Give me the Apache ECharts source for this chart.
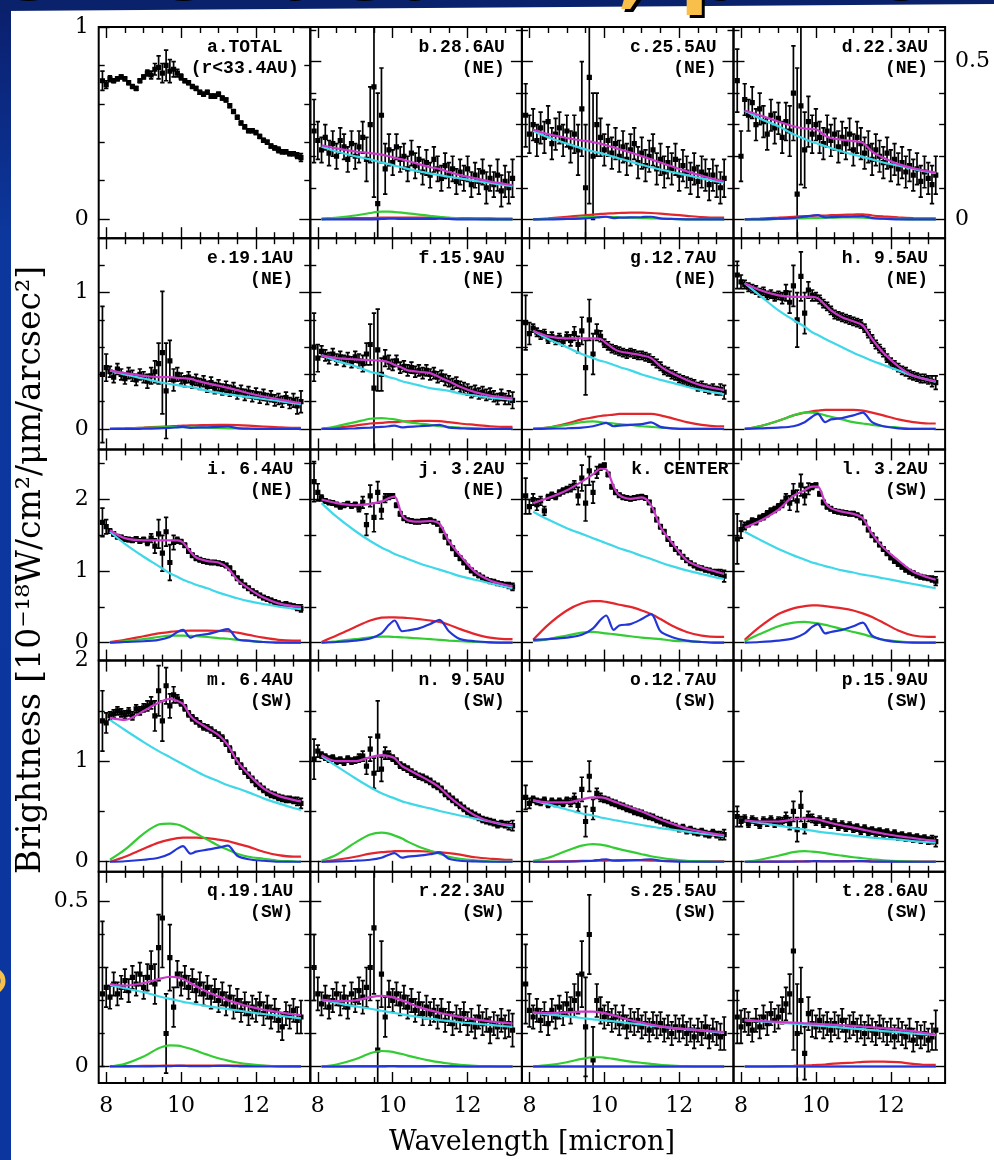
<!DOCTYPE html>
<html><head><meta charset="utf-8">
<script src="https://cdn.jsdelivr.net/npm/echarts@6/dist/echarts.min.js"></script>
<style>html,body{margin:0;padding:0;background:#fff}#c{width:994px;height:1160px}</style>
</head><body><div id="c"></div><script>
// ---------- shared grids ----------
const wavelength = [7.9,8.0,8.1,8.2,8.3,8.4,8.5,8.6,8.7,8.8,8.9,9.0,9.1,9.2,9.3,9.4,9.5,9.6,9.7,9.8,
 9.9,10.0,10.1,10.2,10.3,10.4,10.5,10.6,10.7,10.8,10.9,11.0,11.1,11.2,11.3,11.4,11.5,11.6,11.7,11.8,
 11.9,12.0,12.1,12.2,12.3,12.4,12.5,12.6,12.7,12.8,12.9,13.0,13.1,13.2];
const curveWavelength = [8.1,8.5,9.0,9.4,9.7,9.9,10.05,10.25,10.4,10.7,11.0,11.25,11.5,11.8,12.2,12.6,13.0,13.2];
const xMajorTicks = [8,10,12];
const xMinorTicks = [8.5,9,9.5,10.5,11,11.5,12.5,13];
const yRangeA = [-0.1,1.0], yMajorA = [0,1], yMinorA = [0.2,0.4,0.6,0.8];
const yRangeRow1 = [-0.06,0.61], yMajorRow1 = [0,0.5], yMinorRow1 = [0.1,0.2,0.3,0.4,0.6];
const yRangeRow2 = [-0.15,1.4], yMajorRow2 = [0,1], yMinorRow2 = [0.2,0.4,0.6,0.8,1.2];
const yRangeRow3 = [-0.25,2.7], yMajorRow3 = [0,1,2], yMinorRow3 = [0.5,1.5,2.5];
const yRangeRow4 = [-0.1,2.0], yMajorRow4 = [0,1,2], yMinorRow4 = [0.5,1.5];
const yRangeRow5 = [-0.05,0.59], yMajorRow5 = [0,0.5], yMinorRow5 = [0.1,0.2,0.3,0.4];
const panelTitles = [['a.TOTAL','(r<33.4AU)'],['b.28.6AU','(NE)'],['c.25.5AU','(NE)'],['d.22.3AU','(NE)'],
 ['e.19.1AU','(NE)'],['f.15.9AU','(NE)'],['g.12.7AU','(NE)'],['h. 9.5AU','(NE)'],
 ['i. 6.4AU','(NE)'],['j. 3.2AU','(NE)'],['k. CENTER'],['l. 3.2AU','(SW)'],
 ['m. 6.4AU','(SW)'],['n. 9.5AU','(SW)'],['o.12.7AU','(SW)'],['p.15.9AU','(SW)'],
 ['q.19.1AU','(SW)'],['r.22.3AU','(SW)'],['s.25.5AU','(SW)'],['t.28.6AU','(SW)']];

// ---------- a ----------
const a_val = [0.72,0.70,0.73,0.72,0.73,0.74,0.73,0.71,0.69,0.68,
 0.72,0.74,0.76,0.75,0.78,0.79,0.76,0.80,0.77,0.78,
 0.76,0.74,0.72,0.71,0.69,0.68,0.66,0.65,0.66,0.64,
 0.64,0.65,0.63,0.62,0.59,0.56,0.53,0.50,0.48,0.46,
 0.46,0.45,0.43,0.41,0.40,0.38,0.37,0.36,0.35,0.35,
 0.34,0.34,0.33,0.32];
const a_err = [0.05,0.02,0.015,0.01,0.01,0.01,0.01,0.01,0.01,0.01,
 0.01,0.01,0.015,0.02,0.03,0.06,0.05,0.08,0.06,0.04,
 0.02,0.015,0.01,0.01,0.01,0.01,0.01,0.01,0.01,0.01,
 0.01,0.01,0.01,0.01,0.01,0.01,0.01,0.01,0.01,0.01,
 0.01,0.01,0.01,0.01,0.01,0.01,0.01,0.015,0.01,0.01,
 0.01,0.01,0.015,0.02];
// ---------- b ----------
const b_val = [0.28,0.25,0.22,0.26,0.21,0.24,0.20,0.25,0.23,0.19,
 0.24,0.20,0.23,0.26,0.19,0.30,0.42,0.05,0.33,0.16,
 0.22,0.18,0.23,0.19,0.20,0.16,0.21,0.17,0.19,0.15,
 0.18,0.14,0.19,0.16,0.13,0.17,0.14,0.16,0.12,0.15,
 0.13,0.16,0.11,0.14,0.12,0.15,0.10,0.13,0.11,0.14,
 0.09,0.12,0.10,0.13];
const b_err = [0.10,0.06,0.04,0.04,0.04,0.04,0.04,0.04,0.04,0.04,
 0.04,0.04,0.05,0.05,0.07,0.12,0.35,0.35,0.15,0.08,
 0.05,0.04,0.04,0.04,0.04,0.04,0.04,0.04,0.04,0.04,
 0.04,0.04,0.04,0.04,0.04,0.04,0.04,0.04,0.04,0.04,
 0.04,0.04,0.04,0.04,0.04,0.04,0.05,0.04,0.04,0.05,
 0.05,0.05,0.05,0.06];
const b_total = [0.235,0.225,0.215,0.21,0.205,0.20,0.195,0.19,0.185,0.175,0.165,0.16,0.15,0.14,0.13,0.12,0.112,0.108];
const b_cont = [0.23,0.215,0.20,0.19,0.18,0.175,0.17,0.165,0.16,0.152,0.145,0.14,0.135,0.13,0.122,0.115,0.108,0.105];
const b_red = [0.002,0.003,0.004,0.004,0.005,0.005,0.005,0.005,0.005,0.005,0.005,0.005,0.004,0.004,0.003,0.003,0.002,0.002];
const b_green = [0,0.005,0.012,0.02,0.024,0.024,0.023,0.021,0.019,0.015,0.011,0.008,0.005,0.003,0.001,0,0,0];
const b_blue = [0,0,0,0,0.001,0.002,0.002,0.001,0.001,0.001,0.001,0.002,0.001,0,0,0,0,0];
// ---------- c ----------
const c_val = [0.33,0.27,0.30,0.25,0.29,0.26,0.31,0.24,0.27,0.29,
 0.25,0.28,0.23,0.27,0.22,0.35,0.10,0.45,0.20,0.30,
 0.26,0.22,0.25,0.21,0.24,0.20,0.23,0.19,0.22,0.24,
 0.18,0.21,0.17,0.20,0.22,0.16,0.19,0.15,0.18,0.16,
 0.19,0.14,0.17,0.15,0.13,0.16,0.12,0.15,0.14,0.11,
 0.14,0.12,0.10,0.13];
const c_err = [0.10,0.06,0.05,0.05,0.05,0.05,0.05,0.05,0.05,0.05,
 0.05,0.05,0.05,0.06,0.08,0.15,0.20,0.40,0.20,0.10,
 0.06,0.05,0.05,0.05,0.05,0.05,0.05,0.05,0.05,0.05,
 0.05,0.05,0.05,0.05,0.05,0.05,0.05,0.05,0.05,0.05,
 0.05,0.05,0.05,0.05,0.05,0.05,0.05,0.05,0.05,0.05,
 0.05,0.05,0.05,0.06];
const c_total = [0.285,0.27,0.258,0.25,0.245,0.24,0.235,0.228,0.222,0.212,0.20,0.19,0.18,0.168,0.152,0.138,0.125,0.12];
const c_cont = [0.28,0.26,0.24,0.225,0.215,0.21,0.205,0.198,0.193,0.183,0.173,0.165,0.158,0.15,0.14,0.13,0.12,0.116];
const c_red = [0,0.003,0.008,0.012,0.015,0.017,0.018,0.019,0.02,0.021,0.021,0.02,0.018,0.015,0.011,0.007,0.005,0.005];
const c_green = [0,0.001,0.003,0.006,0.008,0.008,0.008,0.007,0.006,0.005,0.004,0.003,0.002,0.001,0,0,0,0];
const c_blue = [0,0,0.001,0.002,0.004,0.007,0.008,0.004,0.005,0.006,0.007,0.008,0.003,0.001,0,0,0,0];
// ---------- d ----------
const d_val = [0.44,0.20,0.38,0.33,0.37,0.30,0.35,0.31,0.27,0.33,
 0.29,0.32,0.26,0.31,0.28,0.40,0.08,0.36,0.22,0.31,
 0.27,0.30,0.26,0.24,0.28,0.25,0.27,0.23,0.26,0.24,
 0.27,0.22,0.26,0.24,0.21,0.23,0.19,0.22,0.20,0.18,
 0.21,0.17,0.19,0.16,0.18,0.15,0.17,0.14,0.16,0.12,
 0.15,0.13,0.11,0.14];
const d_err = [0.10,0.08,0.05,0.05,0.05,0.05,0.05,0.05,0.05,0.05,
 0.05,0.05,0.05,0.06,0.08,0.15,0.40,0.25,0.12,0.08,
 0.06,0.05,0.05,0.05,0.05,0.05,0.05,0.05,0.05,0.05,
 0.05,0.05,0.05,0.05,0.05,0.05,0.05,0.05,0.05,0.05,
 0.05,0.05,0.05,0.05,0.05,0.05,0.05,0.05,0.05,0.05,
 0.05,0.05,0.06,0.06];
const d_total = [0.345,0.33,0.31,0.295,0.288,0.286,0.283,0.265,0.258,0.252,0.248,0.243,0.215,0.195,0.175,0.162,0.152,0.148];
const d_cont = [0.345,0.32,0.295,0.27,0.255,0.245,0.24,0.232,0.226,0.215,0.205,0.198,0.19,0.18,0.17,0.16,0.15,0.146];
const d_red = [0,0.002,0.005,0.008,0.01,0.011,0.012,0.012,0.013,0.014,0.015,0.016,0.012,0.009,0.006,0.004,0.003,0.003];
const d_green = [0,0,0.001,0.002,0.003,0.004,0.004,0.005,0.005,0.006,0.006,0.005,0.003,0.002,0.001,0,0,0];
const d_blue = [0,0,0.002,0.004,0.008,0.012,0.013,0.006,0.007,0.008,0.009,0.01,0.004,0.002,0,0,0,0];
// ---------- e ----------
const e_val = [0.40,0.45,0.42,0.38,0.44,0.40,0.37,0.41,0.39,0.36,
 0.40,0.38,0.35,0.39,0.42,0.48,0.56,0.28,0.50,0.36,
 0.40,0.37,0.35,0.38,0.34,0.36,0.33,0.35,0.31,0.34,
 0.30,0.32,0.29,0.31,0.28,0.30,0.26,0.28,0.25,0.27,
 0.24,0.26,0.23,0.25,0.22,0.24,0.21,0.22,0.20,0.23,
 0.19,0.21,0.17,0.20];
const e_err = [0.50,0.10,0.04,0.04,0.04,0.04,0.04,0.04,0.04,0.04,
 0.04,0.04,0.05,0.06,0.08,0.15,0.45,0.35,0.15,0.08,
 0.05,0.04,0.04,0.04,0.04,0.04,0.04,0.04,0.04,0.04,
 0.04,0.04,0.04,0.04,0.04,0.04,0.04,0.04,0.04,0.04,
 0.04,0.04,0.04,0.04,0.04,0.04,0.04,0.04,0.04,0.04,
 0.04,0.05,0.06,0.08];
const e_total = [0.43,0.41,0.39,0.38,0.38,0.375,0.372,0.368,0.355,0.335,0.318,0.302,0.285,0.262,0.238,0.218,0.198,0.19];
const e_cont = [0.43,0.40,0.37,0.345,0.33,0.322,0.315,0.307,0.30,0.28,0.265,0.255,0.245,0.235,0.22,0.205,0.19,0.182];
const e_red = [0,0.004,0.01,0.016,0.02,0.022,0.024,0.026,0.027,0.029,0.03,0.03,0.028,0.024,0.018,0.012,0.008,0.008];
const e_green = [0,0.003,0.008,0.012,0.014,0.014,0.013,0.012,0.011,0.009,0.007,0.005,0.004,0.002,0.001,0,0,0];
const e_blue = [0,0,0.002,0.004,0.008,0.012,0.015,0.008,0.01,0.012,0.015,0.018,0.006,0.002,0,0,0,0];
// ---------- f ----------
const f_val = [0.60,0.52,0.57,0.54,0.52,0.55,0.51,0.53,0.50,0.52,
 0.49,0.53,0.50,0.48,0.55,0.62,0.30,0.58,0.40,0.52,
 0.49,0.47,0.50,0.45,0.46,0.43,0.45,0.42,0.43,0.41,
 0.43,0.40,0.41,0.38,0.39,0.36,0.35,0.33,0.34,0.31,
 0.30,0.29,0.27,0.28,0.26,0.27,0.25,0.26,0.24,0.22,
 0.25,0.22,0.23,0.21];
const f_err = [0.25,0.10,0.04,0.04,0.04,0.04,0.04,0.04,0.04,0.04,
 0.04,0.04,0.05,0.06,0.08,0.15,0.55,0.30,0.12,0.06,
 0.05,0.04,0.04,0.04,0.04,0.04,0.04,0.04,0.04,0.04,
 0.04,0.04,0.04,0.04,0.04,0.04,0.04,0.04,0.04,0.04,
 0.04,0.04,0.04,0.04,0.04,0.04,0.04,0.04,0.04,0.04,
 0.04,0.04,0.05,0.06];
const f_total = [0.54,0.52,0.51,0.505,0.50,0.49,0.47,0.45,0.43,0.42,0.41,0.38,0.35,0.31,0.27,0.245,0.23,0.225];
const f_cont = [0.54,0.50,0.46,0.42,0.40,0.38,0.37,0.35,0.34,0.32,0.30,0.29,0.28,0.26,0.245,0.23,0.22,0.215];
const f_red = [0,0.01,0.025,0.04,0.045,0.05,0.05,0.055,0.055,0.06,0.06,0.058,0.05,0.04,0.03,0.02,0.015,0.015];
const f_green = [0,0.02,0.05,0.075,0.08,0.075,0.07,0.06,0.05,0.04,0.03,0.02,0.015,0.01,0.005,0,0,0];
const f_blue = [0,0,0.005,0.01,0.015,0.02,0.025,0.012,0.015,0.02,0.025,0.03,0.01,0.005,0,0,0,0];
// ---------- g ----------
const g_val = [0.78,0.70,0.74,0.71,0.69,0.70,0.66,0.68,0.65,0.67,
 0.64,0.68,0.65,0.70,0.62,0.72,0.45,0.80,0.55,0.71,
 0.68,0.63,0.61,0.59,0.58,0.57,0.56,0.55,0.56,0.55,
 0.54,0.54,0.53,0.52,0.50,0.48,0.46,0.43,0.42,0.40,
 0.39,0.37,0.36,0.35,0.34,0.33,0.31,0.32,0.30,0.29,
 0.30,0.28,0.29,0.27];
const g_err = [0.20,0.08,0.03,0.03,0.03,0.03,0.03,0.03,0.03,0.03,
 0.03,0.03,0.04,0.05,0.06,0.10,0.20,0.15,0.15,0.06,
 0.04,0.03,0.03,0.03,0.03,0.03,0.03,0.03,0.03,0.03,
 0.03,0.03,0.03,0.03,0.03,0.03,0.03,0.03,0.03,0.03,
 0.03,0.03,0.03,0.03,0.03,0.03,0.03,0.03,0.03,0.03,
 0.03,0.03,0.04,0.05];
const g_total = [0.72,0.68,0.665,0.665,0.665,0.66,0.63,0.59,0.57,0.555,0.54,0.52,0.46,0.41,0.36,0.32,0.295,0.285];
const g_cont = [0.72,0.66,0.60,0.55,0.52,0.50,0.49,0.47,0.455,0.43,0.40,0.38,0.36,0.34,0.31,0.285,0.265,0.255];
const g_red = [0,0.01,0.04,0.07,0.085,0.095,0.10,0.105,0.11,0.11,0.11,0.11,0.10,0.08,0.05,0.03,0.02,0.02];
const g_green = [0,0.01,0.03,0.05,0.055,0.05,0.045,0.04,0.035,0.03,0.02,0.015,0.01,0.005,0,0,0,0];
const g_blue = [0,0.002,0.005,0.01,0.02,0.035,0.045,0.02,0.025,0.03,0.035,0.048,0.015,0.005,0,0,0,0];
// ---------- h ----------
const h_val = [1.13,1.08,1.06,1.04,1.03,1.02,1.00,1.01,0.98,0.99,
 0.97,0.98,0.96,1.00,0.93,1.05,0.80,1.12,0.85,1.02,
 0.98,0.97,0.95,0.92,0.90,0.87,0.84,0.83,0.82,0.81,
 0.80,0.79,0.78,0.77,0.74,0.70,0.66,0.62,0.59,0.56,
 0.52,0.49,0.47,0.45,0.43,0.42,0.40,0.39,0.38,0.37,
 0.37,0.36,0.35,0.34];
const h_err = [0.10,0.05,0.03,0.03,0.03,0.03,0.03,0.03,0.03,0.03,
 0.03,0.03,0.04,0.06,0.08,0.15,0.20,0.18,0.15,0.06,
 0.04,0.03,0.03,0.03,0.03,0.03,0.03,0.03,0.03,0.03,
 0.03,0.03,0.03,0.03,0.03,0.03,0.03,0.03,0.03,0.03,
 0.03,0.03,0.03,0.03,0.03,0.03,0.03,0.03,0.03,0.03,
 0.03,0.03,0.04,0.05];
const h_total = [1.07,1.02,0.98,0.97,0.97,0.97,0.96,0.91,0.87,0.82,0.79,0.76,0.66,0.56,0.46,0.39,0.36,0.35];
const h_cont = [1.07,0.98,0.87,0.80,0.75,0.71,0.69,0.66,0.64,0.60,0.56,0.53,0.50,0.47,0.43,0.39,0.36,0.345];
const h_red = [0,0.02,0.06,0.10,0.12,0.13,0.135,0.14,0.14,0.14,0.14,0.135,0.12,0.10,0.07,0.05,0.04,0.04];
const h_green = [0,0.02,0.06,0.10,0.12,0.12,0.115,0.10,0.09,0.07,0.05,0.04,0.03,0.02,0.01,0,0,0];
const h_blue = [0,0.005,0.01,0.02,0.05,0.09,0.11,0.05,0.07,0.08,0.10,0.12,0.05,0.02,0.005,0,0,0];
// ---------- i ----------
const i_val = [1.68,1.62,1.56,1.52,1.48,1.47,1.45,1.44,1.43,1.45,
 1.42,1.44,1.40,1.46,1.35,1.52,1.25,1.55,1.12,1.40,
 1.43,1.41,1.36,1.28,1.22,1.18,1.16,1.14,1.13,1.12,
 1.12,1.11,1.10,1.08,1.04,0.97,0.90,0.85,0.80,0.76,
 0.72,0.69,0.66,0.63,0.61,0.59,0.57,0.55,0.53,0.54,
 0.52,0.51,0.49,0.48];
const i_err = [0.20,0.10,0.03,0.03,0.03,0.03,0.03,0.03,0.03,0.03,
 0.03,0.03,0.04,0.06,0.10,0.20,0.25,0.20,0.25,0.10,
 0.04,0.03,0.03,0.03,0.03,0.03,0.03,0.03,0.03,0.03,
 0.03,0.03,0.03,0.03,0.03,0.03,0.03,0.03,0.03,0.03,
 0.03,0.03,0.03,0.03,0.03,0.03,0.03,0.03,0.03,0.03,
 0.03,0.03,0.04,0.05];
const i_total = [1.57,1.46,1.43,1.43,1.43,1.43,1.40,1.27,1.19,1.14,1.12,1.04,0.88,0.76,0.63,0.55,0.51,0.50];
const i_cont = [1.55,1.38,1.20,1.07,0.97,0.92,0.88,0.84,0.81,0.76,0.70,0.66,0.62,0.58,0.54,0.505,0.48,0.47];
const i_red = [0.01,0.04,0.09,0.13,0.15,0.16,0.165,0.17,0.17,0.17,0.165,0.16,0.14,0.11,0.07,0.04,0.03,0.03];
const i_green = [0,0.02,0.05,0.08,0.10,0.10,0.10,0.095,0.09,0.08,0.065,0.055,0.04,0.025,0.01,0.005,0,0];
const i_blue = [0,0.01,0.02,0.04,0.08,0.15,0.18,0.07,0.10,0.12,0.16,0.19,0.05,0.03,0.01,0,0,0];
// ---------- j ----------
const j_val = [2.25,2.10,2.02,1.98,1.96,1.95,1.93,1.90,1.92,1.94,
 1.91,1.93,1.88,1.96,1.65,2.05,1.75,2.10,1.85,2.02,
 2.04,2.05,1.92,1.80,1.74,1.71,1.70,1.69,1.69,1.70,
 1.70,1.71,1.69,1.66,1.57,1.48,1.40,1.32,1.24,1.18,
 1.12,1.06,1.01,0.97,0.94,0.91,0.88,0.86,0.85,0.83,
 0.82,0.81,0.80,0.78];
const j_err = [0.28,0.12,0.04,0.03,0.03,0.03,0.03,0.03,0.03,0.03,
 0.03,0.03,0.05,0.08,0.15,0.15,0.20,0.15,0.12,0.06,
 0.04,0.03,0.03,0.03,0.03,0.03,0.03,0.03,0.03,0.03,
 0.03,0.03,0.03,0.03,0.03,0.03,0.03,0.03,0.03,0.03,
 0.03,0.03,0.03,0.03,0.03,0.03,0.03,0.03,0.03,0.03,
 0.03,0.03,0.04,0.05];
const j_total = [2.00,1.95,1.92,1.94,1.97,2.02,2.04,1.78,1.71,1.69,1.70,1.66,1.42,1.22,0.99,0.87,0.81,0.79];
const j_cont = [1.95,1.76,1.56,1.42,1.33,1.28,1.24,1.20,1.17,1.11,1.06,1.02,0.98,0.93,0.88,0.83,0.78,0.76];
const j_red = [0.01,0.10,0.22,0.31,0.35,0.355,0.355,0.35,0.345,0.33,0.31,0.29,0.25,0.19,0.12,0.07,0.05,0.05];
const j_green = [0,0.02,0.05,0.075,0.085,0.085,0.08,0.075,0.07,0.06,0.05,0.04,0.03,0.02,0.01,0.005,0,0];
const j_blue = [0,0.01,0.03,0.06,0.13,0.25,0.31,0.16,0.17,0.20,0.26,0.32,0.16,0.05,0.02,0.005,0,0];
// ---------- k ----------
const k_val = [2.05,1.90,2.00,1.93,1.98,1.84,2.03,2.06,2.04,2.09,
 2.12,2.14,2.16,2.20,2.05,2.30,1.95,2.40,2.10,2.38,
 2.45,2.48,2.35,2.18,2.10,2.06,2.03,2.02,2.01,2.02,
 2.03,2.04,2.02,1.96,1.85,1.72,1.62,1.55,1.45,1.38,
 1.31,1.26,1.20,1.15,1.11,1.08,1.05,1.04,1.02,1.01,
 0.99,0.98,0.97,0.93];
const k_err = [0.25,0.10,0.08,0.08,0.06,0.06,0.04,0.04,0.04,0.04,
 0.04,0.04,0.05,0.06,0.12,0.18,0.25,0.20,0.15,0.08,
 0.04,0.03,0.03,0.03,0.03,0.03,0.03,0.03,0.03,0.03,
 0.03,0.03,0.03,0.03,0.03,0.03,0.03,0.03,0.03,0.03,
 0.03,0.03,0.03,0.03,0.03,0.03,0.03,0.03,0.03,0.03,
 0.03,0.04,0.05,0.08];
const k_total = [1.95,2.02,2.13,2.25,2.35,2.43,2.42,2.18,2.06,2.01,2.03,1.92,1.62,1.40,1.15,1.05,0.99,0.96];
const k_cont = [1.83,1.72,1.60,1.52,1.46,1.42,1.39,1.35,1.32,1.27,1.21,1.17,1.12,1.07,1.01,0.96,0.91,0.89];
const k_red = [0.04,0.25,0.45,0.55,0.58,0.58,0.57,0.55,0.53,0.50,0.45,0.40,0.33,0.24,0.15,0.10,0.08,0.08];
const k_green = [0.02,0.05,0.10,0.14,0.15,0.14,0.13,0.12,0.11,0.09,0.07,0.06,0.05,0.03,0.02,0.01,0,0];
const k_blue = [0.04,0.05,0.07,0.11,0.20,0.32,0.38,0.18,0.24,0.26,0.33,0.40,0.16,0.08,0.03,0.01,0,0];
// ---------- l ----------
const l_val = [1.45,1.58,1.63,1.66,1.70,1.69,1.74,1.76,1.80,1.84,
 1.86,1.90,1.94,2.02,1.95,2.10,1.98,2.20,2.05,2.15,
 2.18,2.20,2.08,1.96,1.90,1.87,1.84,1.83,1.82,1.81,
 1.80,1.80,1.78,1.75,1.68,1.58,1.50,1.44,1.37,1.31,
 1.25,1.19,1.14,1.10,1.06,1.02,0.99,0.97,0.94,0.92,
 0.91,0.90,0.89,0.86];
const l_err = [0.35,0.12,0.05,0.04,0.04,0.04,0.04,0.04,0.04,0.04,
 0.04,0.04,0.05,0.06,0.10,0.12,0.15,0.15,0.12,0.08,
 0.04,0.03,0.03,0.03,0.03,0.03,0.03,0.03,0.03,0.03,
 0.03,0.03,0.03,0.03,0.03,0.03,0.03,0.03,0.03,0.03,
 0.03,0.03,0.03,0.03,0.03,0.03,0.03,0.03,0.03,0.03,
 0.03,0.03,0.04,0.06];
const l_total = [1.61,1.70,1.86,2.05,2.13,2.18,2.18,1.96,1.88,1.83,1.80,1.74,1.52,1.33,1.15,0.99,0.91,0.88];
const l_cont = [1.55,1.44,1.31,1.22,1.16,1.12,1.10,1.07,1.05,1.01,0.98,0.95,0.93,0.90,0.86,0.82,0.78,0.76];
const l_red = [0.04,0.22,0.40,0.48,0.51,0.52,0.52,0.51,0.50,0.48,0.45,0.41,0.36,0.28,0.17,0.10,0.08,0.08];
const l_green = [0.02,0.12,0.23,0.28,0.29,0.28,0.27,0.25,0.23,0.19,0.15,0.12,0.08,0.04,0.02,0.005,0,0];
const l_blue = [0,0.01,0.03,0.06,0.13,0.22,0.26,0.13,0.15,0.18,0.23,0.28,0.10,0.04,0.01,0,0,0];
// ---------- m ----------
const m_val = [1.40,1.38,1.45,1.47,1.50,1.48,1.46,1.49,1.45,1.52,
 1.50,1.53,1.55,1.58,1.45,1.70,1.40,1.75,1.55,1.66,
 1.62,1.58,1.53,1.47,1.43,1.40,1.37,1.34,1.33,1.31,
 1.28,1.26,1.23,1.18,1.12,1.06,1.00,0.95,0.90,0.86,
 0.82,0.78,0.75,0.72,0.69,0.67,0.66,0.64,0.63,0.62,
 0.62,0.61,0.60,0.58];
const m_err = [0.30,0.10,0.04,0.04,0.04,0.04,0.04,0.04,0.04,0.04,
 0.04,0.04,0.05,0.06,0.15,0.25,0.20,0.18,0.12,0.08,
 0.04,0.03,0.03,0.03,0.03,0.03,0.03,0.03,0.03,0.03,
 0.03,0.03,0.03,0.03,0.03,0.03,0.03,0.03,0.03,0.03,
 0.03,0.03,0.03,0.03,0.03,0.03,0.03,0.03,0.03,0.03,
 0.03,0.03,0.04,0.05];
const m_total = [1.43,1.41,1.50,1.58,1.62,1.60,1.57,1.45,1.40,1.33,1.26,1.16,1.00,0.87,0.73,0.655,0.615,0.60];
const m_cont = [1.41,1.31,1.19,1.10,1.04,1.00,0.97,0.93,0.90,0.845,0.80,0.76,0.73,0.69,0.63,0.58,0.535,0.515];
const m_red = [0,0.05,0.13,0.19,0.22,0.235,0.24,0.24,0.24,0.235,0.22,0.205,0.18,0.15,0.10,0.065,0.05,0.05];
const m_green = [0.02,0.12,0.28,0.37,0.38,0.37,0.35,0.31,0.28,0.22,0.16,0.12,0.08,0.05,0.03,0.01,0.005,0];
const m_blue = [0,0.005,0.02,0.04,0.08,0.13,0.155,0.08,0.10,0.12,0.14,0.16,0.06,0.025,0.01,0,0,0];
// ---------- n ----------
const n_val = [1.02,1.10,1.06,1.04,1.02,1.03,1.00,1.01,0.99,1.02,
 1.00,1.01,1.03,1.05,0.95,1.12,0.88,1.25,0.92,1.08,
 1.06,1.03,1.00,0.96,0.94,0.92,0.89,0.87,0.85,0.84,
 0.82,0.80,0.77,0.75,0.72,0.68,0.65,0.62,0.59,0.56,
 0.53,0.50,0.48,0.46,0.44,0.42,0.41,0.40,0.39,0.37,
 0.38,0.37,0.36,0.36];
const n_err = [0.20,0.06,0.03,0.03,0.03,0.03,0.03,0.03,0.03,0.03,
 0.03,0.03,0.04,0.05,0.08,0.12,0.15,0.35,0.12,0.06,
 0.04,0.03,0.03,0.03,0.03,0.03,0.03,0.03,0.03,0.03,
 0.03,0.03,0.03,0.03,0.03,0.03,0.03,0.03,0.03,0.03,
 0.03,0.03,0.03,0.03,0.03,0.03,0.03,0.03,0.03,0.03,
 0.03,0.03,0.04,0.05];
const n_total = [1.06,1.00,1.00,1.04,1.06,1.05,1.03,0.95,0.92,0.86,0.80,0.74,0.65,0.56,0.46,0.40,0.37,0.365];
const n_cont = [1.05,0.95,0.83,0.74,0.68,0.65,0.63,0.60,0.585,0.555,0.53,0.505,0.485,0.46,0.43,0.40,0.365,0.35];
const n_red = [0,0.02,0.05,0.08,0.095,0.10,0.105,0.105,0.105,0.105,0.10,0.095,0.085,0.07,0.045,0.03,0.02,0.02];
const n_green = [0.01,0.07,0.19,0.27,0.29,0.28,0.26,0.23,0.20,0.15,0.11,0.08,0.05,0.03,0.015,0.005,0,0];
const n_blue = [0,0.003,0.01,0.02,0.04,0.07,0.085,0.04,0.05,0.06,0.075,0.09,0.03,0.01,0.003,0,0,0];
// ---------- o ----------
const o_val = [0.64,0.58,0.62,0.60,0.59,0.61,0.57,0.60,0.58,0.60,
 0.58,0.61,0.59,0.63,0.56,0.72,0.40,0.85,0.52,0.68,
 0.64,0.62,0.61,0.59,0.58,0.56,0.55,0.53,0.52,0.50,
 0.49,0.48,0.46,0.45,0.44,0.42,0.41,0.39,0.38,0.36,
 0.35,0.33,0.34,0.31,0.32,0.30,0.29,0.30,0.28,0.27,
 0.29,0.27,0.26,0.27];
const o_err = [0.12,0.05,0.03,0.03,0.03,0.03,0.03,0.03,0.03,0.03,
 0.03,0.03,0.04,0.05,0.06,0.12,0.15,0.15,0.10,0.05,
 0.04,0.03,0.03,0.03,0.03,0.03,0.03,0.03,0.03,0.03,
 0.03,0.03,0.03,0.03,0.03,0.03,0.03,0.03,0.03,0.03,
 0.03,0.03,0.03,0.03,0.03,0.03,0.03,0.03,0.03,0.03,
 0.03,0.03,0.04,0.05];
const o_total = [0.61,0.59,0.59,0.62,0.64,0.64,0.63,0.60,0.58,0.54,0.50,0.46,0.42,0.38,0.33,0.30,0.275,0.265];
const o_cont = [0.61,0.57,0.52,0.48,0.46,0.44,0.43,0.415,0.405,0.385,0.365,0.35,0.335,0.32,0.30,0.28,0.265,0.255];
const o_red = [0,0.002,0.005,0.008,0.01,0.012,0.012,0.013,0.013,0.013,0.013,0.012,0.01,0.008,0.006,0.004,0.003,0.003];
const o_green = [0.01,0.04,0.11,0.16,0.175,0.17,0.16,0.14,0.125,0.10,0.075,0.055,0.04,0.025,0.01,0.005,0,0];
const o_blue = [0,0,0.002,0.005,0.01,0.02,0.025,0.01,0.012,0.015,0.02,0.025,0.01,0.003,0,0,0,0];
// ---------- p ----------
const p_val = [0.45,0.40,0.43,0.38,0.42,0.40,0.37,0.41,0.39,0.42,
 0.38,0.41,0.40,0.44,0.38,0.50,0.32,0.55,0.36,0.45,
 0.43,0.40,0.42,0.38,0.40,0.37,0.39,0.35,0.37,0.34,
 0.36,0.33,0.34,0.31,0.33,0.30,0.31,0.29,0.30,0.28,
 0.29,0.26,0.28,0.25,0.26,0.24,0.25,0.23,0.24,0.22,
 0.23,0.21,0.22,0.20];
const p_err = [0.10,0.05,0.035,0.035,0.035,0.035,0.035,0.035,0.035,0.035,
 0.035,0.035,0.04,0.05,0.06,0.10,0.12,0.15,0.08,0.05,
 0.04,0.035,0.035,0.035,0.035,0.035,0.035,0.035,0.035,0.035,
 0.035,0.035,0.035,0.035,0.035,0.035,0.035,0.035,0.035,0.035,
 0.035,0.035,0.035,0.035,0.035,0.035,0.035,0.035,0.035,0.035,
 0.035,0.035,0.04,0.05];
const p_total = [0.41,0.40,0.40,0.42,0.43,0.425,0.42,0.40,0.385,0.36,0.34,0.32,0.30,0.28,0.255,0.235,0.215,0.21];
const p_cont = [0.41,0.385,0.36,0.335,0.32,0.31,0.30,0.29,0.285,0.27,0.26,0.25,0.24,0.23,0.22,0.205,0.195,0.19];
const p_red = [0,0.001,0.002,0.003,0.004,0.005,0.005,0.005,0.005,0.006,0.006,0.006,0.005,0.004,0.003,0.002,0.001,0.001];
const p_green = [0,0.02,0.06,0.095,0.105,0.10,0.095,0.085,0.075,0.06,0.045,0.035,0.025,0.015,0.006,0.002,0,0];
const p_blue = [0,0,0.001,0.002,0.003,0.005,0.006,0.003,0.004,0.004,0.005,0.006,0.002,0.001,0,0,0,0];
// ---------- q ----------
const q_val = [0.22,0.24,0.21,0.25,0.22,0.24,0.26,0.23,0.27,0.25,
 0.28,0.24,0.27,0.30,0.25,0.36,0.45,0.10,0.33,0.18,
 0.28,0.25,0.27,0.24,0.26,0.23,0.25,0.22,0.24,0.21,
 0.23,0.20,0.22,0.19,0.21,0.18,0.20,0.17,0.19,0.16,
 0.18,0.17,0.19,0.16,0.18,0.15,0.17,0.14,0.12,0.16,
 0.15,0.17,0.14,0.15];
const q_err = [0.22,0.06,0.035,0.035,0.035,0.035,0.035,0.035,0.035,0.035,
 0.035,0.035,0.04,0.05,0.06,0.10,0.15,0.12,0.10,0.06,
 0.04,0.035,0.035,0.035,0.035,0.035,0.035,0.035,0.035,0.035,
 0.035,0.035,0.035,0.035,0.035,0.035,0.035,0.035,0.035,0.035,
 0.035,0.035,0.035,0.035,0.035,0.035,0.035,0.035,0.04,0.035,
 0.035,0.035,0.04,0.05];
const q_total = [0.25,0.245,0.253,0.265,0.272,0.27,0.265,0.253,0.243,0.226,0.212,0.201,0.192,0.182,0.172,0.165,0.158,0.156];
const q_cont = [0.247,0.237,0.225,0.213,0.205,0.20,0.196,0.192,0.189,0.183,0.178,0.174,0.17,0.165,0.159,0.154,0.149,0.146];
const q_red = [0.001,0.001,0.002,0.002,0.003,0.003,0.003,0.003,0.003,0.003,0.003,0.003,0.003,0.002,0.002,0.001,0.001,0.001];
const q_green = [0,0.008,0.03,0.055,0.064,0.063,0.06,0.054,0.048,0.036,0.025,0.018,0.012,0.007,0.003,0.001,0,0];
const q_blue = [0,0,0,0.001,0.001,0.002,0.002,0.001,0.001,0.001,0.002,0.002,0.001,0,0,0,0,0];
// ---------- r ----------
const r_val = [0.30,0.22,0.19,0.21,0.18,0.20,0.22,0.19,0.21,0.18,
 0.22,0.20,0.23,0.21,0.24,0.30,0.42,0.05,0.28,0.15,
 0.22,0.20,0.22,0.19,0.21,0.18,0.20,0.17,0.19,0.16,
 0.18,0.16,0.17,0.15,0.17,0.14,0.16,0.13,0.15,0.14,
 0.16,0.13,0.14,0.12,0.15,0.13,0.14,0.11,0.13,0.12,
 0.14,0.12,0.13,0.11];
const r_err = [0.10,0.05,0.035,0.035,0.035,0.035,0.035,0.035,0.035,0.035,
 0.035,0.035,0.04,0.05,0.06,0.10,0.20,0.15,0.10,0.06,
 0.04,0.035,0.035,0.035,0.035,0.035,0.035,0.035,0.035,0.035,
 0.035,0.035,0.035,0.035,0.035,0.035,0.035,0.035,0.035,0.035,
 0.035,0.035,0.035,0.035,0.035,0.035,0.035,0.04,0.035,0.035,
 0.035,0.035,0.04,0.05];
const r_total = [0.203,0.198,0.20,0.21,0.214,0.212,0.208,0.20,0.194,0.18,0.17,0.163,0.157,0.15,0.143,0.137,0.132,0.13];
const r_cont = [0.202,0.193,0.182,0.175,0.169,0.165,0.162,0.158,0.155,0.15,0.145,0.141,0.138,0.134,0.13,0.126,0.122,0.12];
const r_red = [0,0,0.001,0.001,0.001,0.001,0.001,0.001,0.001,0.001,0.001,0.001,0.001,0.001,0,0,0,0];
const r_green = [0,0.006,0.022,0.04,0.047,0.046,0.043,0.038,0.033,0.025,0.018,0.013,0.009,0.005,0.002,0.001,0,0];
const r_blue = [0,0,0,0,0,0.001,0.001,0,0,0,0.001,0.001,0,0,0,0,0,0];
// ---------- s ----------
const s_val = [0.25,0.17,0.15,0.17,0.14,0.16,0.13,0.17,0.15,0.18,
 0.16,0.19,0.17,0.20,0.22,0.28,0.12,0.40,0.02,0.20,
 0.17,0.15,0.16,0.14,0.15,0.13,0.15,0.12,0.14,0.13,
 0.14,0.12,0.13,0.11,0.13,0.12,0.13,0.11,0.12,0.10,
 0.12,0.11,0.12,0.10,0.11,0.09,0.11,0.10,0.12,0.09,
 0.11,0.10,0.09,0.10];
const s_err = [0.12,0.05,0.035,0.035,0.035,0.035,0.035,0.035,0.035,0.035,
 0.035,0.035,0.04,0.05,0.06,0.10,0.15,0.12,0.10,0.05,
 0.04,0.035,0.035,0.035,0.035,0.035,0.035,0.035,0.035,0.035,
 0.035,0.035,0.035,0.035,0.035,0.035,0.035,0.035,0.035,0.035,
 0.035,0.035,0.035,0.035,0.035,0.035,0.035,0.035,0.035,0.035,
 0.035,0.035,0.04,0.05];
const s_total = [0.163,0.162,0.164,0.166,0.166,0.164,0.161,0.155,0.15,0.14,0.133,0.127,0.122,0.117,0.113,0.109,0.106,0.105];
const s_cont = [0.163,0.158,0.152,0.147,0.143,0.141,0.139,0.137,0.135,0.131,0.127,0.124,0.121,0.117,0.113,0.109,0.104,0.102];
const s_red = [0,0,0,0,0,0,0,0,0,0,0,0,0,0,0,0,0,0];
const s_green = [0,0.004,0.013,0.023,0.028,0.028,0.026,0.023,0.02,0.015,0.011,0.008,0.005,0.003,0.001,0,0,0];
const s_blue = [0,0,0,0,0,0,0,0,0,0,0,0,0,0,0,0,0,0];
// ---------- t ----------
const t_val = [0.15,0.12,0.14,0.13,0.11,0.14,0.12,0.15,0.13,0.16,
 0.14,0.15,0.17,0.19,0.22,0.35,0.10,0.20,0.04,0.16,
 0.13,0.12,0.14,0.12,0.13,0.11,0.13,0.12,0.14,0.11,
 0.12,0.13,0.11,0.12,0.10,0.12,0.11,0.10,0.12,0.11,
 0.10,0.11,0.09,0.11,0.10,0.09,0.11,0.08,0.10,0.09,
 0.10,0.08,0.09,0.11];
const t_err = [0.08,0.05,0.035,0.035,0.035,0.035,0.035,0.035,0.035,0.035,
 0.035,0.035,0.04,0.05,0.06,0.30,0.15,0.10,0.08,0.05,
 0.04,0.035,0.035,0.035,0.035,0.035,0.035,0.035,0.035,0.035,
 0.035,0.035,0.035,0.035,0.035,0.035,0.035,0.035,0.035,0.035,
 0.035,0.035,0.035,0.035,0.035,0.035,0.035,0.035,0.035,0.035,
 0.035,0.035,0.04,0.06];
const t_total = [0.141,0.138,0.135,0.133,0.131,0.13,0.129,0.128,0.127,0.125,0.123,0.121,0.119,0.116,0.112,0.107,0.10,0.097];
const t_cont = [0.14,0.137,0.133,0.13,0.127,0.125,0.124,0.122,0.121,0.118,0.115,0.113,0.11,0.107,0.104,0.10,0.097,0.095];
const t_red = [0,0,0.001,0.002,0.003,0.004,0.005,0.006,0.008,0.01,0.012,0.014,0.015,0.015,0.013,0.008,0.005,0.005];
const t_green = [0,0,0,0,0,0,0,0,0,0,0,0,0,0,0,0,0,0];
const t_blue = [0,0,0,0,0,0,0,0,0,0,0,0,0,0,0,0,0,0];

// ---------- assemble ----------
const panels = [
 {val:a_val, err:a_err},
 {val:b_val, err:b_err, c:[b_cont,b_total,b_red,b_green,b_blue]},
 {val:c_val, err:c_err, c:[c_cont,c_total,c_red,c_green,c_blue]},
 {val:d_val, err:d_err, c:[d_cont,d_total,d_red,d_green,d_blue]},
 {val:e_val, err:e_err, c:[e_cont,e_total,e_red,e_green,e_blue]},
 {val:f_val, err:f_err, c:[f_cont,f_total,f_red,f_green,f_blue]},
 {val:g_val, err:g_err, c:[g_cont,g_total,g_red,g_green,g_blue]},
 {val:h_val, err:h_err, c:[h_cont,h_total,h_red,h_green,h_blue]},
 {val:i_val, err:i_err, c:[i_cont,i_total,i_red,i_green,i_blue]},
 {val:j_val, err:j_err, c:[j_cont,j_total,j_red,j_green,j_blue]},
 {val:k_val, err:k_err, c:[k_cont,k_total,k_red,k_green,k_blue]},
 {val:l_val, err:l_err, c:[l_cont,l_total,l_red,l_green,l_blue]},
 {val:m_val, err:m_err, c:[m_cont,m_total,m_red,m_green,m_blue]},
 {val:n_val, err:n_err, c:[n_cont,n_total,n_red,n_green,n_blue]},
 {val:o_val, err:o_err, c:[o_cont,o_total,o_red,o_green,o_blue]},
 {val:p_val, err:p_err, c:[p_cont,p_total,p_red,p_green,p_blue]},
 {val:q_val, err:q_err, c:[q_cont,q_total,q_red,q_green,q_blue]},
 {val:r_val, err:r_err, c:[r_cont,r_total,r_red,r_green,r_blue]},
 {val:s_val, err:s_err, c:[s_cont,s_total,s_red,s_green,s_blue]},
 {val:t_val, err:t_err, c:[t_cont,t_total,t_red,t_green,t_blue]}
];
const curveColors = ['#3FD8E8','#C93AC9','#E3262B','#33CC33','#2236D8'];

const GL = 98.7, GT = 27, CW = 211.6, CH = 211.2;
const X_MIN = 7.8, X_MAX = 13.45;
const tickStyle = {color:'#000', width:1.4};
const labelFont = {fontFamily:'DejaVu Serif', fontSize:22, color:'#000'};

function yConf(r, c) {
  if (r === 0 && c === 0) return [yRangeA, yMajorA, yMinorA];
  return [[yRangeRow1,yMajorRow1,yMinorRow1],[yRangeRow1,yMajorRow1,yMinorRow1],
          [yRangeRow2,yMajorRow2,yMinorRow2],[yRangeRow3,yMajorRow3,yMinorRow3],
          [yRangeRow4,yMajorRow4,yMinorRow4],[yRangeRow5,yMajorRow5,yMinorRow5]][r + 1];
}
function makeErrRender(yMin, yMax) {
  return function (params, api) {
    const x = api.value(0), v = api.value(1), e = api.value(2);
    const lo = Math.max(v - e, yMin), hi = Math.min(v + e, yMax);
    const A = api.coord([x, lo]), B = api.coord([x, hi]);
    const st = {stroke:'#000', lineWidth:1.7};
    const ch = [{type:'line', shape:{x1:A[0], y1:A[1], x2:B[0], y2:B[1]}, style:st}];
    if (v - e >= yMin) ch.push({type:'line', shape:{x1:A[0]-2.2, y1:A[1], x2:A[0]+2.2, y2:A[1]}, style:st});
    if (v + e <= yMax) ch.push({type:'line', shape:{x1:B[0]-2.2, y1:B[1], x2:B[0]+2.2, y2:B[1]}, style:st});
    if (v >= yMin && v <= yMax) {
      const P = api.coord([x, v]);
      ch.push({type:'rect', shape:{x:P[0]-2.6, y:P[1]-2.6, width:5.2, height:5.2}, style:{fill:'#000'}});
    }
    return {type:'group', children:ch};
  };
}

const grids = [], xAxes = [], yAxes = [], series = [], graphics = [];
panels.forEach((p, i) => {
  const r = Math.floor(i / 4), c = i % 4;
  const left = GL + c * CW, top = GT + r * CH;
  grids.push({left, top, width:CW, height:CH, show:true, borderColor:'#000', borderWidth:2, backgroundColor:'transparent'});
  const xb = {gridIndex:i, type:'value', min:X_MIN, max:X_MAX, axisLine:{show:false, onZero:false}, splitLine:{show:false}};
  const fmt = v => String(v);
  xAxes.push(Object.assign({}, xb, {position:'bottom', axisTick:{show:true, inside:true, length:11, customValues:xMajorTicks, lineStyle:tickStyle},
    axisLabel:Object.assign({show:r === 4, customValues:xMajorTicks, margin:12, formatter:fmt}, labelFont)}));
  xAxes.push(Object.assign({}, xb, {position:'bottom', axisTick:{show:true, inside:true, length:6, customValues:xMinorTicks, lineStyle:tickStyle}, axisLabel:{show:false}}));
  xAxes.push(Object.assign({}, xb, {position:'top', axisTick:{show:true, inside:true, length:11, customValues:xMajorTicks, lineStyle:tickStyle}, axisLabel:{show:false}}));
  xAxes.push(Object.assign({}, xb, {position:'top', axisTick:{show:true, inside:true, length:6, customValues:xMinorTicks, lineStyle:tickStyle}, axisLabel:{show:false}}));
  const [yr, ymaj, ymin] = yConf(r, c);
  const yb = {gridIndex:i, type:'value', min:yr[0], max:yr[1], axisLine:{show:false, onZero:false}, splitLine:{show:false}};
  yAxes.push(Object.assign({}, yb, {position:'left', axisTick:{show:true, inside:true, length:11, customValues:ymaj, lineStyle:tickStyle},
    axisLabel:Object.assign({show:c === 0, customValues:ymaj, margin:10, formatter:fmt}, labelFont)}));
  yAxes.push(Object.assign({}, yb, {position:'left', axisTick:{show:true, inside:true, length:6, customValues:ymin, lineStyle:tickStyle}, axisLabel:{show:false}}));
  yAxes.push(Object.assign({}, yb, {position:'right', axisTick:{show:true, inside:true, length:11, customValues:ymaj, lineStyle:tickStyle},
    axisLabel:Object.assign({show:(r === 0 && c === 3), customValues:ymaj, margin:10, formatter:fmt}, labelFont)}));
  yAxes.push(Object.assign({}, yb, {position:'right', axisTick:{show:true, inside:true, length:6, customValues:ymin, lineStyle:tickStyle}, axisLabel:{show:false}}));

  series.push({type:'custom', xAxisIndex:4*i, yAxisIndex:4*i, clip:true, silent:true, z:2,
    data:p.val.map((v, k) => [wavelength[k], v, p.err[k]]), renderItem:makeErrRender(yr[0], yr[1])});
  if (p.c) {
    p.c.forEach((arr, j) => {
      series.push({type:'line', xAxisIndex:4*i, yAxisIndex:4*i, silent:true, z:3 + j, showSymbol:false, symbol:'none', smooth:0.3,
        lineStyle:{color:curveColors[j], width:2.2}, data:curveWavelength.map((w, k) => [w, arr[k]])});
    });
  }
  const t = panelTitles[i];
  const font = 'bold 18px "Liberation Mono"';
  if (i === 0) {
    t.forEach((s, j) => graphics.push({type:'text', z:50, style:{text:s, x:left + 146, y:top + 20 + j * 21, font, fill:'#000',
      align:'center', verticalAlign:'middle', textAlign:'center', textVerticalAlign:'middle'}}));
  } else {
    const rx = (i === 10) ? left + CW - 5 : left + CW - 17;
    t.forEach((s, j) => graphics.push({type:'text', z:50, style:{text:s, x:rx, y:top + 20 + j * 21, font, fill:'#000',
      align:'right', verticalAlign:'middle', textAlign:'right', textVerticalAlign:'middle'}}));
  }
});

// slide decoration & axis titles
graphics.push({type:'rect', z:0, shape:{x:0, y:0, width:11, height:1160},
  style:{fill:{type:'linear', x:0, y:0, x2:0, y2:1, colorStops:[{offset:0, color:'#0a1f6c'},{offset:0.2, color:'#0c379c'},{offset:1, color:'#0b36a0'}]}}});
graphics.push({type:'polygon', z:0, shape:{points:[[0,0],[994,0],[994,4],[0,11]]}, style:{fill:'#0a216c'}});
graphics.push({type:'text', z:60, style:{text:'extended DB, p 1-6', x:-3, y:-22, font:'bold 86px "DejaVu Sans"', fill:'#000',
  align:'left', verticalAlign:'middle', textAlign:'left', textVerticalAlign:'middle'}});
graphics.push({type:'text', z:61, style:{text:'extended DB, p 1-6', x:-6, y:-25, font:'bold 86px "DejaVu Sans"', fill:'#F8C04A',
  align:'left', verticalAlign:'middle', textAlign:'left', textVerticalAlign:'middle'}});
graphics.push({type:'circle', z:61, shape:{cx:-8, cy:981, r:11}, style:{fill:'none', stroke:'#F8C04A', lineWidth:5}});
graphics.push({type:'text', z:50, style:{text:'Wavelength [micron]', x:532, y:1143, font:'27px "DejaVu Serif"', fill:'#000',
  align:'center', verticalAlign:'middle', textAlign:'center', textVerticalAlign:'middle'}});
graphics.push({type:'text', z:50, x:31, y:570, rotation:Math.PI / 2, style:{text:'Brightness [10\u207B\u00B9\u2078W/cm\u00B2/\u03BCm/arcsec\u00B2]', x:0, y:0,
  font:'33px "DejaVu Serif"', fill:'#000', align:'center', verticalAlign:'middle', textAlign:'center', textVerticalAlign:'middle'}});

const chart = echarts.init(document.getElementById('c'), null, {renderer:'canvas'});
chart.setOption({
  animation:false, backgroundColor:'#fff',
  grid:grids, xAxis:xAxes, yAxis:yAxes, series:series,
  graphic:{elements:graphics}
});
</script></body></html>
